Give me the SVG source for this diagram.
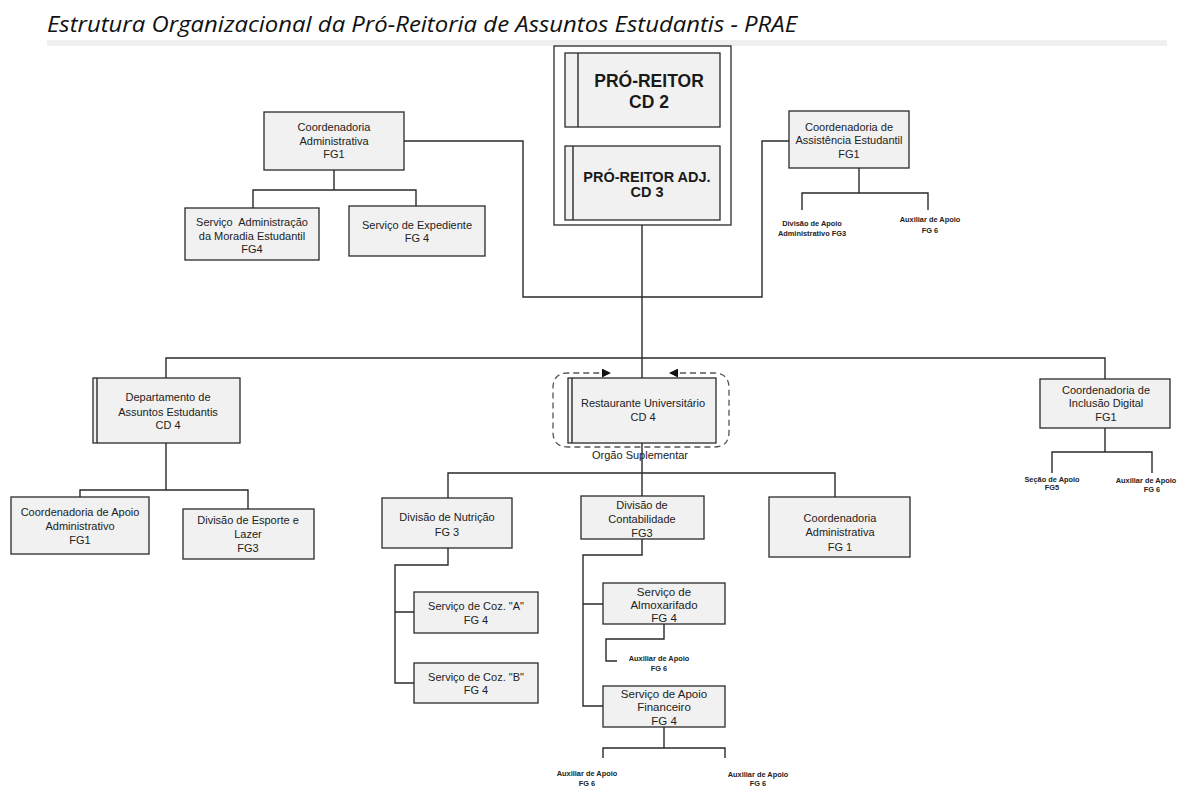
<svg xmlns="http://www.w3.org/2000/svg" width="1177" height="787" viewBox="0 0 1177 787">
<style>
.box{fill:#f1f1f1;stroke:#2a2a2a;stroke-width:1.3}
.frame{fill:#fff;stroke:#2a2a2a;stroke-width:1.3}
.c{fill:none;stroke:#2a2a2a;stroke-width:1.4}
.t{font-family:"Liberation Sans",Arial,sans-serif;font-size:11px;fill:#222;text-anchor:middle}
.m{font-size:11.5px}
.b{font-weight:bold;fill:#1a1a1a}
.b1{font-size:17.5px}
.b2{font-size:14.5px}
.s{font-size:7.4px;fill:#222;font-weight:bold}
.dash{fill:none;stroke:#555;stroke-width:1.3;stroke-dasharray:6 4}
</style>
<defs>
<marker id="ah" viewBox="0 0 10 10" refX="9" refY="5" markerWidth="9" markerHeight="9" markerUnits="userSpaceOnUse" orient="auto-start-reverse">
<path d="M0,0 L10,5 L0,10 z" fill="#111"/>
</marker>
</defs>
<rect width="1177" height="787" fill="#fff"/>
<text x="47" y="32" font-family="'Open Sans',sans-serif" font-style="italic" font-size="21" fill="#111" textLength="750" lengthAdjust="spacingAndGlyphs">Estrutura Organizacional da Pró-Reitoria de Assuntos Estudantis - PRAE</text>
<rect x="47" y="40" width="1120" height="6" fill="#efefef"/>

<g id="connectors">
<path class="c" d="M642,127 V146"/>
<path class="c" d="M642,225 V378"/>
<path class="c" d="M166,378 V358 H1105 V379"/>
<path class="c" d="M404,141 H523 V297 H762 V141 H789"/>
<path class="c" d="M334,170 V190 M253,208 V190 H416 V206"/>
<path class="c" d="M859,168 V193 M802,210 V193 H928 V210"/>
<path class="c" d="M166,443 V490 M80,497 V490 H248 V509"/>
<path class="c" d="M1105,428 V452 M1052,473 V452 H1152 V473"/>
<path class="c" d="M642,443 V496 M448,498 V473 H835 V497"/>
<path class="c" d="M448,548 V565 H395 V683 H414 M395,612 H414"/>
<path class="c" d="M642,539 V555 H583 V706 H603 M583,604 H603"/>
<path class="c" d="M664,624 V639 H606 V661 H617"/>
<path class="c" d="M664,727 V748 M603,758 V748 H725 V758"/>
<path class="dash" d="M670,373 H714 Q729,373 729,388 V432 Q729,447 714,447 H568 Q553,447 553,432 V388 Q553,373 568,373 H610" marker-start="url(#ah)" marker-end="url(#ah)"/>
</g>

<g id="pro-reitoria">
<rect class="frame" x="554" y="46" width="177" height="179"/>
</g>
<g id="pro-reitor">
<rect class="box" x="565" y="53" width="155" height="74"/>
<line class="c" x1="578" y1="53" x2="578" y2="127"/>
<text class="t b b1" x="649" y="87">PRÓ-REITOR</text>
<text class="t b b1" x="649" y="108">CD 2</text>
</g>
<g id="pro-reitor-adj">
<rect class="box" x="565" y="146" width="155" height="74"/>
<line class="c" x1="573" y1="146" x2="573" y2="220"/>
<text class="t b b2" x="647" y="182">PRÓ-REITOR ADJ.</text>
<text class="t b b2" x="647" y="197">CD 3</text>
</g>

<g id="coord-administrativa">
<rect class="box" x="264" y="112" width="140" height="58"/>
<text class="t" x="334" y="131">Coordenadoria</text>
<text class="t" x="334" y="145">Administrativa</text>
<text class="t" x="334" y="158">FG1</text>
</g>
<g id="servico-moradia">
<rect class="box" x="185" y="208" width="134" height="52"/>
<text class="t" x="252" y="226" xml:space="preserve">Serviço  Administração</text>
<text class="t" x="252" y="240">da Moradia Estudantil</text>
<text class="t" x="252" y="253">FG4</text>
</g>
<g id="servico-expediente">
<rect class="box" x="349" y="206" width="136" height="50"/>
<text class="t" x="417" y="229">Serviço de Expediente</text>
<text class="t" x="417" y="242">FG 4</text>
</g>

<g id="coord-assistencia">
<rect class="box" x="789" y="111" width="120" height="57"/>
<text class="t" x="849" y="131">Coordenadoria de</text>
<text class="t" x="849" y="144">Assistência Estudantil</text>
<text class="t" x="849" y="158">FG1</text>
</g>
<g id="divisao-apoio-adm">
<text class="t s" x="812" y="226">Divisão de Apoio</text>
<text class="t s" x="812" y="236">Administrativo FG3</text>
</g>
<g id="auxiliar-assistencia">
<text class="t s" x="930" y="222">Auxiliar de Apoio</text>
<text class="t s" x="930" y="233">FG 6</text>
</g>

<g id="departamento">
<rect class="box" x="93" y="378" width="147" height="65"/>
<line class="c" x1="97" y1="378" x2="97" y2="443"/>
<text class="t" x="168" y="401">Departamento de</text>
<text class="t" x="168" y="416">Assuntos Estudantis</text>
<text class="t" x="168" y="429">CD 4</text>
</g>
<g id="coord-apoio-adm">
<rect class="box" x="11" y="497" width="138" height="57"/>
<text class="t" x="80" y="516">Coordenadoria de Apoio</text>
<text class="t" x="80" y="530">Administrativo</text>
<text class="t" x="80" y="544">FG1</text>
</g>
<g id="divisao-esporte">
<rect class="box" x="183" y="509" width="131" height="50"/>
<text class="t" x="248" y="524">Divisão de Esporte e</text>
<text class="t" x="248" y="538">Lazer</text>
<text class="t" x="248" y="552">FG3</text>
</g>

<g id="restaurante">
<rect class="box" x="568" y="378" width="148" height="65"/>
<line class="c" x1="572" y1="378" x2="572" y2="443"/>
<text class="t" x="643" y="407">Restaurante Universitário</text>
<text class="t" x="643" y="421">CD 4</text>
<text class="t" x="640" y="459">Orgão Suplementar</text>
</g>

<g id="coord-inclusao">
<rect class="box" x="1040" y="379" width="130" height="49"/>
<text class="t" x="1106" y="394">Coordenadoria de</text>
<text class="t" x="1106" y="407">Inclusão Digital</text>
<text class="t" x="1106" y="421">FG1</text>
</g>
<g id="secao-apoio">
<text class="t s" x="1052" y="482">Seção de Apoio</text>
<text class="t s" x="1052" y="490">FG5</text>
</g>
<g id="auxiliar-inclusao">
<text class="t s" x="1146" y="483">Auxiliar de Apoio</text>
<text class="t s" x="1152" y="492">FG 6</text>
</g>

<g id="divisao-nutricao">
<rect class="box" x="382" y="498" width="130" height="50"/>
<text class="t" x="447" y="521">Divisão de Nutrição</text>
<text class="t" x="447" y="536">FG 3</text>
</g>
<g id="servico-coz-a">
<rect class="box" x="414" y="592" width="124" height="41"/>
<text class="t" x="476" y="610">Serviço de Coz. "A"</text>
<text class="t" x="476" y="624">FG 4</text>
</g>
<g id="servico-coz-b">
<rect class="box" x="414" y="663" width="124" height="40"/>
<text class="t" x="476" y="681">Serviço de Coz. "B"</text>
<text class="t" x="476" y="694">FG 4</text>
</g>

<g id="divisao-contabilidade">
<rect class="box" x="581" y="496" width="123" height="43"/>
<text class="t" x="642" y="509">Divisão de</text>
<text class="t" x="642" y="523">Contabilidade</text>
<text class="t" x="642" y="537">FG3</text>
</g>
<g id="servico-almoxarifado">
<rect class="box" x="603" y="583" width="122" height="41"/>
<text class="t m" x="664" y="596">Serviço de</text>
<text class="t m" x="664" y="609">Almoxarifado</text>
<text class="t m" x="664" y="622">FG 4</text>
</g>
<g id="auxiliar-almox">
<text class="t s" x="659" y="661">Auxiliar de Apoio</text>
<text class="t s" x="659" y="671">FG 6</text>
</g>
<g id="servico-apoio-financeiro">
<rect class="box" x="603" y="686" width="122" height="41"/>
<text class="t m" x="664" y="698">Serviço de Apoio</text>
<text class="t m" x="664" y="711">Financeiro</text>
<text class="t m" x="664" y="725">FG 4</text>
</g>
<g id="auxiliar-fin-1">
<text class="t s" x="587" y="776">Auxiliar de Apoio</text>
<text class="t s" x="587" y="786">FG 6</text>
</g>
<g id="auxiliar-fin-2">
<text class="t s" x="758" y="777">Auxiliar de Apoio</text>
<text class="t s" x="758" y="786">FG 6</text>
</g>

<g id="coord-administrativa-ru">
<rect class="box" x="769" y="497" width="141" height="60"/>
<text class="t" x="840" y="522">Coordenadoria</text>
<text class="t" x="840" y="536">Administrativa</text>
<text class="t" x="840" y="551">FG 1</text>
</g>
</svg>
